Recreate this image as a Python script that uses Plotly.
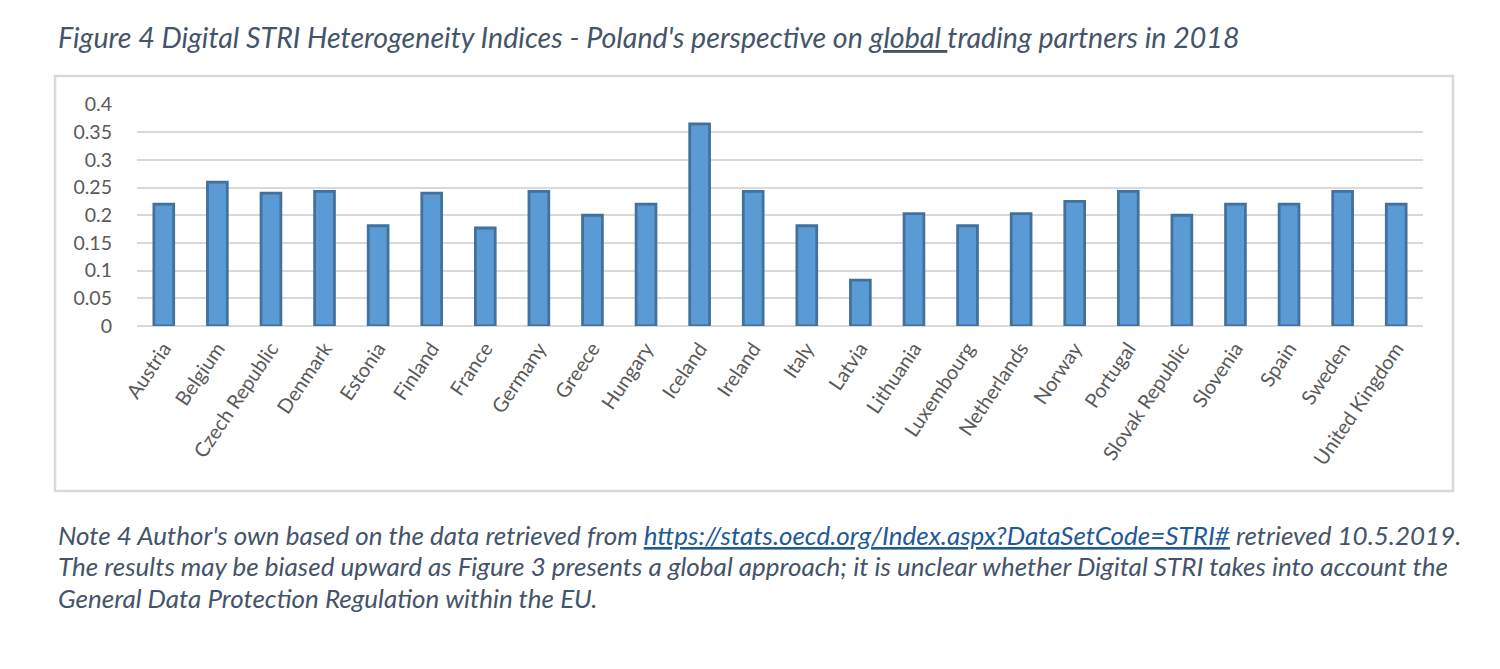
import plotly.graph_objects as go

countries = ["Austria", "Belgium", "Czech Republic", "Denmark", "Estonia", "Finland",
             "France", "Germany", "Greece", "Hungary", "Iceland", "Ireland", "Italy",
             "Latvia", "Lithuania", "Luxembourg", "Netherlands", "Norway", "Portugal",
             "Slovak Republic", "Slovenia", "Spain", "Sweden", "United Kingdom"]
values = [0.220, 0.260, 0.240, 0.243, 0.181, 0.240,
          0.177, 0.243, 0.200, 0.220, 0.365, 0.243, 0.181,
          0.083, 0.203, 0.181, 0.203, 0.225, 0.243,
          0.200, 0.220, 0.220, 0.243, 0.220]
y_ticks = [0, 0.05, 0.1, 0.15, 0.2, 0.25, 0.3, 0.35, 0.4]
y_tick_labels = ["0", "0.05", "0.1", "0.15", "0.2", "0.25", "0.3", "0.35", "0.4"]

title_text = ("Figure 4 Digital STRI Heterogeneity Indices - Poland's perspective on "
              "<span style='text-decoration:underline'>global </span>trading partners in 2018")
note_lines = [
    "Note 4 Author's own based on the data retrieved from "
    "<span style='text-decoration:underline;color:#1F5A96'>https://stats.oecd.org/Index.aspx?DataSetCode=STRI#</span>"
    " retrieved 10.5.2019.",
    "The results may be biased upward as Figure 3 presents a global approach; it is unclear whether Digital STRI takes into account the",
    "General Data Protection Regulation within the EU.",
]

W, H = 1500, 669
FONT = "Lato"

fig = go.Figure()
fig.add_trace(go.Bar(
    x=countries, y=values,
    marker=dict(color="#5B9BD5", line=dict(color="#41719C", width=2.8)),
    width=0.37,
))

px_x = lambda v: v / W
px_y = lambda v: 1 - v / H

fig.update_layout(
    width=W, height=H,
    margin=dict(l=0, r=0, t=0, b=0, autoexpand=False),
    paper_bgcolor="white", plot_bgcolor="white",
    showlegend=False,
    font=dict(family=FONT, color="#595959", size=19),
    xaxis=dict(
        domain=[px_x(137), px_x(1423)], automargin=False,
        tickangle=-56, showgrid=False, showline=False, zeroline=False,
        ticks="", tickfont=dict(size=20, color="#595959", family=FONT),
        ticklabelstandoff=6,
    ),
    yaxis=dict(
        domain=[px_y(326), px_y(104.5)], automargin=False,
        range=[0, 0.4], tickvals=y_ticks, ticktext=y_tick_labels,
        showgrid=True, gridcolor="#D9D9D9", gridwidth=2,
        zeroline=True, zerolinecolor="#D9D9D9", zerolinewidth=2,
        showline=False, ticks="", ticklabelstandoff=24,
        tickfont=dict(size=19.5, color="#595959", family=FONT),
    ),
    shapes=[dict(type="rect", xref="paper", yref="paper",
                 x0=px_x(55), x1=px_x(1453), y0=px_y(491), y1=px_y(76),
                 line=dict(color="#D9D9D9", width=2.5), fillcolor="rgba(0,0,0,0)",
                 layer="below")],
)

fig.add_annotation(text="<i>" + title_text + "</i>", xref="paper", yref="paper",
                   x=px_x(56), y=px_y(37), xanchor="left", yanchor="middle",
                   showarrow=False, font=dict(family=FONT, size=28.6, color="#44546A"))
for line, yy in zip(note_lines, [535, 566, 598]):
    fig.add_annotation(text="<i>" + line + "</i>", xref="paper", yref="paper",
                       x=px_x(56), y=px_y(yy), xanchor="left", yanchor="middle",
                       showarrow=False, font=dict(family=FONT, size=26, color="#44546A"))

fig.write_html("out.html", config={"displayModeBar": False},
               post_script="document.body.style.margin='0';")
